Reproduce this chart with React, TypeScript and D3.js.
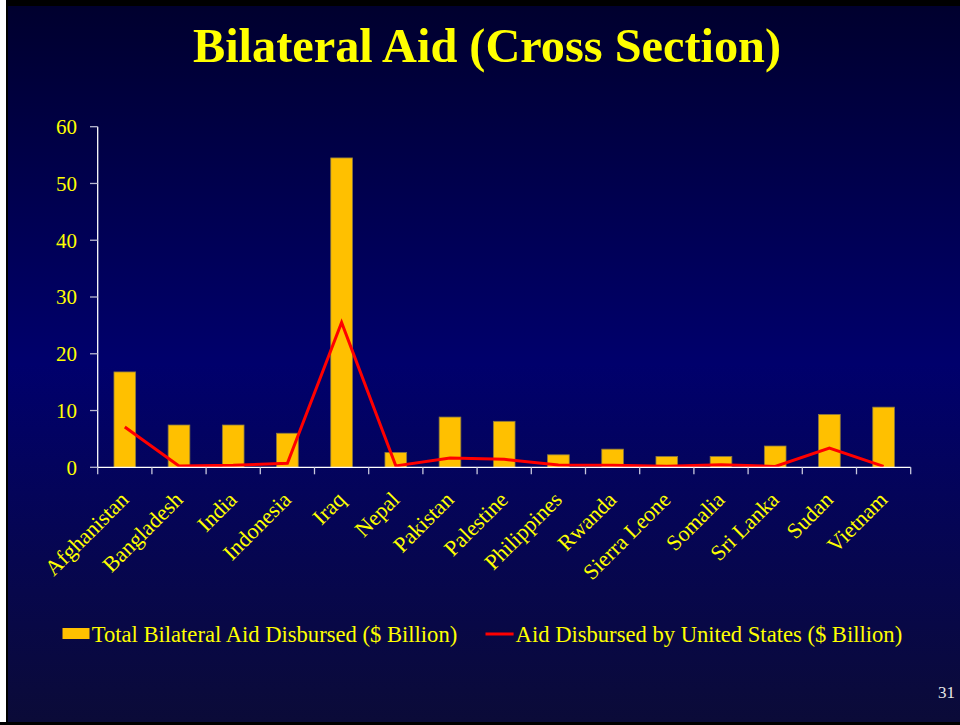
import React from "react";
import * as d3 from "d3";

const categories = [
  "Afghanistan", "Bangladesh", "India", "Indonesia", "Iraq", "Nepal", "Pakistan",
  "Palestine", "Philippines", "Rwanda", "Sierra Leone", "Somalia", "Sri Lanka", "Sudan", "Vietnam",
];
const totalAid = [16.8, 7.45, 7.45, 6.0, 54.5, 2.6, 8.85, 8.1, 2.2, 3.2, 1.9, 1.9, 3.75, 9.3, 10.6];
const usAid = [7.1, 0.25, 0.35, 0.7, 25.5, 0.25, 1.65, 1.4, 0.4, 0.35, 0.2, 0.45, 0.15, 3.4, 0.15];
const yTicks = [0, 10, 20, 30, 40, 50, 60];
const title = "Bilateral Aid (Cross Section)";
const legendBar = "Total Bilateral Aid Disbursed ($ Billion)";
const legendLine = "Aid Disbursed by United States ($ Billion)";
const pageNumber = "31";

const W = 960;
const H = 725;
const FONT = "'Liberation Serif', 'Times New Roman', serif";

export default function App() {
  const x = d3.scaleBand<string>().domain(categories).range([97.7, 910.7]).padding(0);
  const y = d3.scaleLinear().domain([0, 60]).range([467.3, 126.7]);
  const bw = x.bandwidth() * 0.4;
  const cx = (c: string) => (x(c) as number) + x.bandwidth() / 2;

  const line = d3
    .line<number>()
    .x((_, i) => cx(categories[i]))
    .y((d) => y(d));

  const boundaries = categories.map((c) => x(c) as number).concat([x.range()[1]]);

  return (
    <svg
      width={W}
      height={H}
      viewBox={`0 0 ${W} ${H}`}
      style={{ position: "absolute", left: 0, top: 0, display: "block" }}
    >
      <defs>
        <linearGradient id="bg" x1="0" y1="0" x2="0" y2="1">
          <stop offset="0%" stopColor="#00002e" />
          <stop offset="50%" stopColor="#00006c" />
          <stop offset="100%" stopColor="#0b0b38" />
        </linearGradient>
      </defs>
      <rect x={0} y={0} width={W} height={H} fill="#ffffff" />
      <rect x={6} y={0} width={W - 6} height={H} fill="#000000" />
      <rect x={8} y={6} width={W - 8} height={716} fill="url(#bg)" />

      <text
        x={487}
        y={62}
        textAnchor="middle"
        fontFamily={FONT}
        fontWeight="bold"
        fontSize={48.3}
        fill="#ffff00"
      >
        {title}
      </text>

      {/* bars */}
      {categories.map((c, i) => (
        <rect
          key={c}
          x={cx(c) - bw / 2}
          y={y(totalAid[i])}
          width={bw}
          height={y(0) - y(totalAid[i])}
          fill="#ffc000"
          stroke="#8a7840"
          strokeWidth={0.8}
        />
      ))}

      {/* line */}
      <path d={line(usAid) || ""} fill="none" stroke="#ff0000" strokeWidth={3} strokeLinejoin="miter" />

      {/* y axis */}
      <line x1={97.7} x2={97.7} y1={y(60)} y2={y(0)} stroke="#ffffff" strokeWidth={1.3} />
      {yTicks.map((t) => (
        <g key={t}>
          <line x1={90} x2={97.7} y1={y(t)} y2={y(t)} stroke="#b8b8d0" strokeWidth={1.3} />
          <text
            x={77}
            y={y(t)}
            dy="0.35em"
            textAnchor="end"
            fontFamily={FONT}
            fontSize={21}
            fill="#ffff00"
          >
            {t}
          </text>
        </g>
      ))}

      {/* x axis */}
      <line x1={97.7} x2={910.7} y1={y(0)} y2={y(0)} stroke="#ffffff" strokeWidth={1.3} />
      {boundaries.map((b, i) => (
        <line key={i} x1={b} x2={b} y1={y(0)} y2={y(0) + 7} stroke="#c8c8dc" strokeWidth={1.3} />
      ))}
      {categories.map((c) => (
        <text
          key={c}
          transform={`translate(${cx(c) + 5},${501}) rotate(-45)`}
          textAnchor="end"
          fontFamily={FONT}
          fontSize={22}
          fill="#ffff00"
        >
          {c}
        </text>
      ))}

      {/* legend */}
      <rect x={62.5} y={628} width={27} height={11} fill="#ffc000" />
      <text x={91.7} y={641.7} fontFamily={FONT} fontSize={22.6} fill="#ffff00">
        {legendBar}
      </text>
      <line x1={485.5} x2={513.6} y1={634} y2={634} stroke="#ff0000" strokeWidth={3} />
      <text x={515.6} y={641.7} fontFamily={FONT} fontSize={22.6} fill="#ffff00">
        {legendLine}
      </text>

      <text x={955} y={698} textAnchor="end" fontFamily={FONT} fontSize={17} fill="#e6e6e6">
        {pageNumber}
      </text>

      <rect x={0} y={722} width={W} height={3} fill="#000000" />
    </svg>
  );
}
